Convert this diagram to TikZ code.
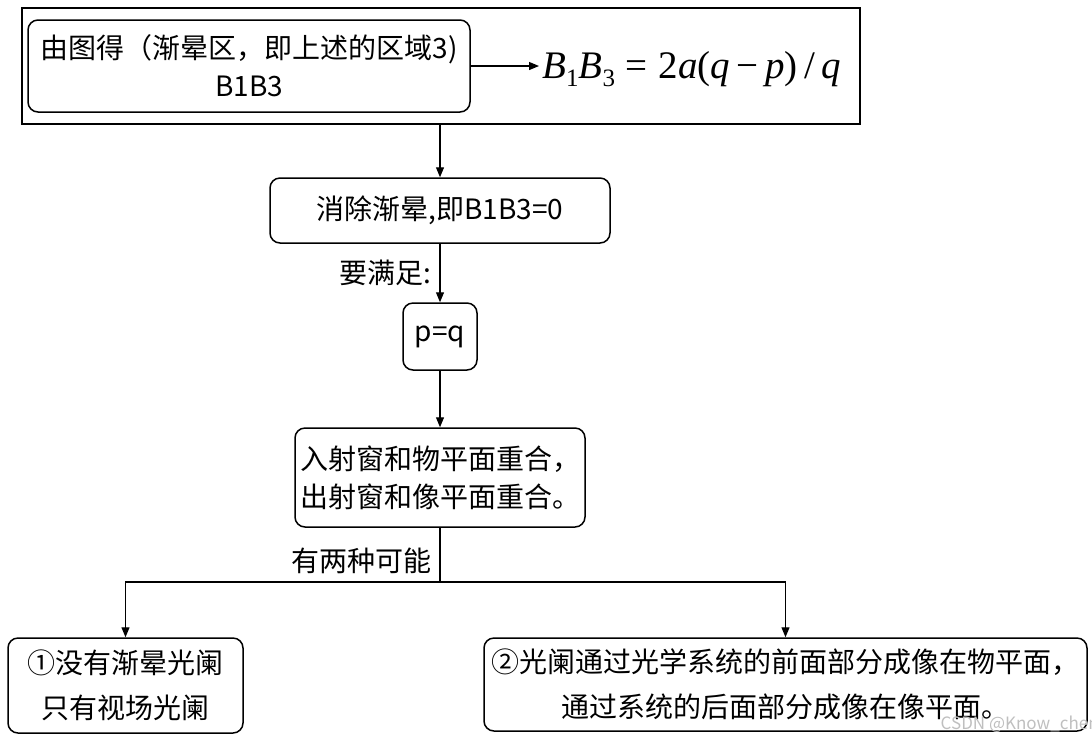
\documentclass[tikz,border=0pt]{standalone}
\usepackage{fontspec}
\setmainfont{Noto Sans CJK SC}
\newfontfamily\tnr{Liberation Serif}
\usetikzlibrary{arrows.meta}
\newcommand{\subdigit}[1]{\lower4pt\hbox{\fontsize{12.5}{12.5}\selectfont #1}}
\begin{document}
\begin{tikzpicture}[x=0.5pt,y=-0.5pt,
  box/.style={draw,line width=0.75pt,rounded corners=5pt,inner sep=0pt,align=center,
    font=\fontsize{14}{19}\selectfont},
  conn/.style={line width=0.6pt},
  arr/.style={conn,-{Triangle[length=5pt,width=4pt]}},
  lbl/.style={font=\fontsize{14}{16}\selectfont,inner sep=0pt}]
\useasboundingbox (0,0) rectangle (1092,741);
% top frame
\node[draw,line width=0.75pt,minimum width=419pt,minimum height=58pt,inner sep=0pt] (outer) at (441,66) {};
\node[box,minimum width=221pt,minimum height=46pt] (b1) at (249,66)
  {由图得（渐晕区，即上述的区域3)\\B1B3};
\node[anchor=west,inner sep=0pt,font=\tnr\fontsize{19.5}{20}\selectfont] (f) at (542,69)
  {\textit{B}\subdigit{1}\textit{B}\subdigit{3}\;=\;2\textit{a}(\textit{q}\,−\,\textit{p})\,/\,\textit{q}};
\draw[arr] (b1.east) -- ([xshift=-1.5pt]b1.east -| f.west);
% column
\node[box,minimum width=170pt,minimum height=32.5pt] (b2) at (440,210.5) {消除渐晕,即B1B3=0};
\node[box,minimum width=37pt,minimum height=33.5pt] (b3) at (440,336.5) {p=q};
\node[box,minimum width=145pt,minimum height=49.5pt,align=left] (b4) at (440,477.5)
  {\fontsize{14}{20}\selectfont 入射窗和物平面重合，\\出射窗和像平面重合。};
\draw[arr] (b2.north |- outer.south) -- (b2.north);
\draw[arr] (b2.south) -- (b3.north);
\node[lbl,anchor=east] (l1) at (432,273) {要满足:};
\draw[arr] (b3.south) -- (b4.north);
\coordinate (br) at (440,582);
\draw[conn] (b4.south) -- (br);
\node[lbl,anchor=east] (l2) at (432,561) {有两种可能};
% bottom boxes
\node[box,minimum width=117.5pt,minimum height=47.5pt,font=\fontsize{14}{22.5}\selectfont] (b5) at (125.5,685.5)
  {①没有渐晕光阑\\只有视场光阑};
\node[box,minimum width=301.5pt,minimum height=46.5pt,font=\fontsize{14}{22.5}\selectfont] (b6) at (785.5,684.5)
  {②光阑通过光学系统的前面部分成像在物平面，\\通过系统的后面部分成像在像平面。};
\draw[arr] (br) -| (b5.north);
\draw[arr] (br) -| (b6.north);
\node[anchor=east,inner sep=0pt,text=black!25,font=\fontsize{8.5}{9}\selectfont] (wm) at (1099,724) {CSDN @Know\_chen};
\end{tikzpicture}
\end{document}
